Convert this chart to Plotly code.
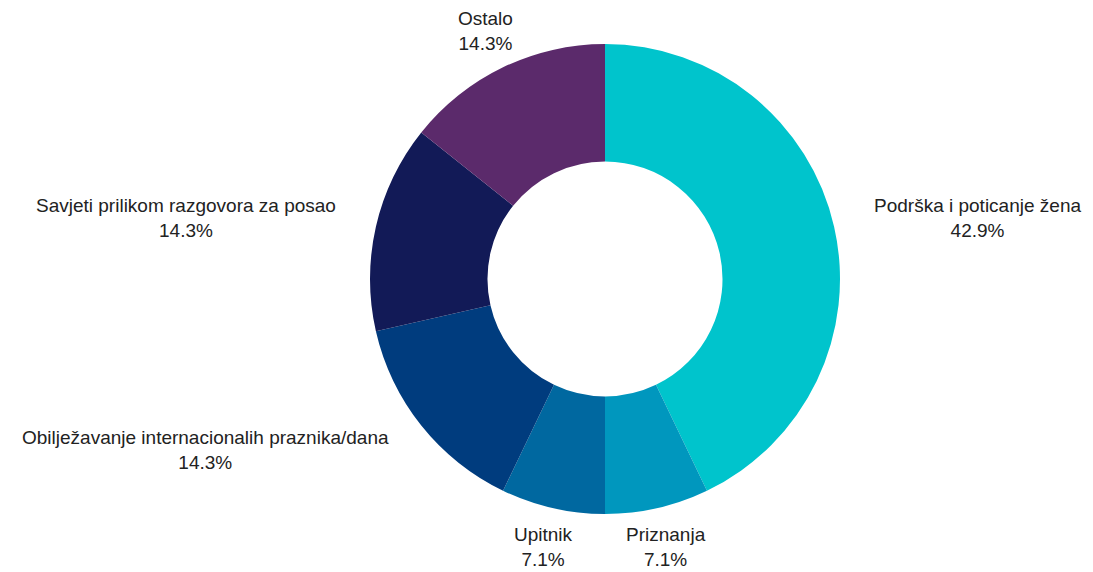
import math
import plotly.graph_objects as go

categories = ["Podrška i poticanje žena", "Priznanja", "Upitnik",
              "Obilježavanje internacionalih praznika/dana",
              "Savjeti prilikom razgovora za posao", "Ostalo"]
counts = [6, 1, 1, 2, 2, 2]
colors = ["#00C4CC", "#0097BE", "#0068A0", "#003C7E", "#121A57", "#5B2A6B"]

OFF = 8  # default page body margin shifts the plot
W, H = 1093 - OFF, 572 - OFF
cx, cy, R = 605 - OFF, 279 - OFF, 235
LABEL_GAP = 40

fig = go.Figure(go.Pie(
    labels=categories,
    values=counts,
    sort=False,
    direction="clockwise",
    rotation=0,
    hole=0.5,
    marker=dict(colors=colors, line=dict(width=0)),
    textinfo="none",
    showlegend=False,
    domain=dict(x=[(cx - R) / W, (cx + R) / W], y=[1 - (cy + R) / H, 1 - (cy - R) / H]),
))

total = sum(counts)
cum = 0
annotations = []
for lab, v in zip(categories, counts):
    mid = (cum + v / 2) / total * 2 * math.pi
    cum += v
    s, c = math.sin(mid), math.cos(mid)
    px = cx + (R + LABEL_GAP) * s
    py = cy - (R + LABEL_GAP) * c
    if s > 0.5:
        xa = "left"
    elif s < -0.5:
        xa = "right"
    else:
        xa = "center"
    annotations.append(dict(
        x=px / W, y=1 - py / H, xref="paper", yref="paper",
        xanchor=xa, yanchor="middle", align="center", showarrow=False,
        borderpad=0,
        text=f"{lab}<br>{v / total * 100:.1f}%",
        font=dict(family="Liberation Sans, Arial, sans-serif", size=19, color="#222222"),
    ))

fig.update_layout(
    width=W, height=H,
    margin=dict(l=0, r=0, t=0, b=0),
    paper_bgcolor="white",
    plot_bgcolor="white",
    annotations=annotations,
)
fig.write_html("out.html")
